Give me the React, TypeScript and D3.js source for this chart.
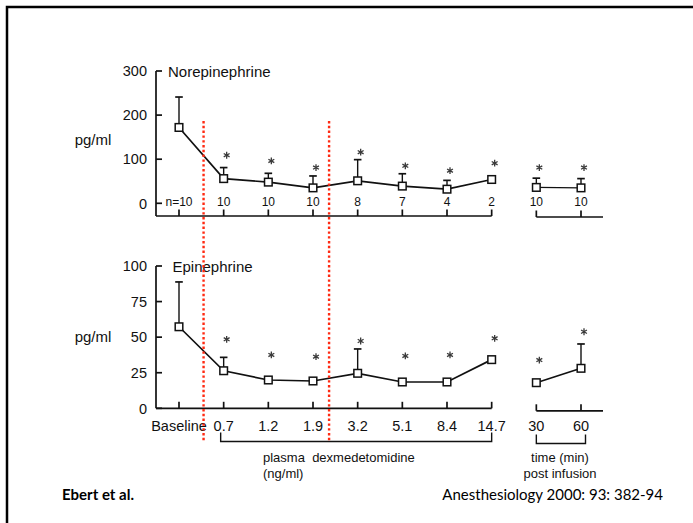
import React, { useEffect, useRef } from 'react';
import * as d3 from 'd3';

const categories = ['Baseline', '0.7', '1.2', '1.9', '3.2', '5.1', '8.4', '14.7', '30', '60'];
const infusionCats = categories.slice(0, 8);
const postCats = categories.slice(8);
const nCounts = ['n=10', '10', '10', '10', '8', '7', '4', '2', '10', '10'];

const norepiMean = [172, 56, 48, 35, 51, 39, 32, 54, 36, 35];
const norepiSem = [69, 25, 20, 27, 48, 28, 20, 0, 21, 21];
const norepiStar = [null, 109, 96, 81, 116, 85, 74, 91, 81, 81];
const norepiTicks = [0, 100, 200, 300];

const epiMean = [57.3, 26.4, 19.9, 19.2, 24.6, 18.5, 18.5, 34.2, 18, 28.1];
const epiSem = [31.5, 9.4, 0, 0, 17.1, 0, 0, 0, 0, 17.1];
const epiStar = [null, 48.5, 37.5, 36.3, 47.3, 36.8, 37.5, 49.2, 33.9, 53.8];
const epiTicks = [0, 25, 50, 75, 100];

// red dotted dividers, in category-index units
const dividers = [0.55, 3.36];

const FONT = '"Liberation Sans", Arial, Helvetica, sans-serif';
const INK = '#111';

const App = () => {
    const svgRef = useRef<SVGSVGElement>(null);

    useEffect(() => {
        const svg = d3.select(svgRef.current);
        svg.selectAll('*').remove();

        const x = d3.scalePoint<string>().domain(categories).range([179, 581]);
        const xi = d3.scaleLinear().domain([0, 9]).range([179, 581]);
        const axisX = 156;

        // frame
        svg.append('rect')
            .attr('x', 7).attr('y', 7)
            .attr('width', 720).attr('height', 560)
            .attr('fill', 'none').attr('stroke', '#000').attr('stroke-width', 2.5);

        const panels = [
            {
                title: 'Norepinephrine', titleX: 168, titleY: 77,
                mean: norepiMean, sem: norepiSem, star: norepiStar, ticks: norepiTicks,
                y: d3.scaleLinear().domain([0, 300]).range([203.3, 71]),
                top: 71, base: 216, postShift: 1, unitY: 140, postWidth: 1.2,
            },
            {
                title: 'Epinephrine', titleX: 172.5, titleY: 272,
                mean: epiMean, sem: epiSem, star: epiStar, ticks: epiTicks,
                y: d3.scaleLinear().domain([0, 100]).range([408.3, 266]),
                top: 266, base: 408.3, postShift: 2.5, unitY: 337, postWidth: 1.7,
            },
        ];

        panels.forEach(p => {
            const g = svg.append('g');
            const y = p.y;

            // y axis
            g.append('line')
                .attr('x1', axisX).attr('x2', axisX)
                .attr('y1', p.top).attr('y2', p.base)
                .attr('stroke', INK).attr('stroke-width', 1.7);
            g.selectAll('line.ytick').data(p.ticks).enter().append('line')
                .attr('x1', axisX).attr('x2', axisX + 6)
                .attr('y1', d => y(d)).attr('y2', d => y(d))
                .attr('stroke', INK).attr('stroke-width', 1.7);
            g.selectAll('text.ylab').data(p.ticks).enter().append('text')
                .attr('x', 147).attr('y', d => y(d)).attr('dy', '0.36em')
                .attr('text-anchor', 'end')
                .attr('font-family', FONT).attr('font-size', 14.5).attr('fill', INK)
                .text(d => d);

            g.append('text')
                .attr('x', 93).attr('y', p.unitY).attr('dy', '0.36em')
                .attr('text-anchor', 'middle')
                .attr('font-family', FONT).attr('font-size', 15).attr('fill', INK)
                .text('pg/ml');

            g.append('text')
                .attr('x', p.titleX).attr('y', p.titleY)
                .attr('font-family', FONT).attr('font-size', 15).attr('fill', INK)
                .text(p.title);

            // x axis main segment
            g.append('line')
                .attr('x1', axisX).attr('x2', x('14.7')!)
                .attr('y1', p.base).attr('y2', p.base)
                .attr('stroke', INK).attr('stroke-width', 1.7);
            g.selectAll('line.xtick').data(infusionCats).enter().append('line')
                .attr('x1', d => x(d)!).attr('x2', d => x(d)!)
                .attr('y1', p.base).attr('y2', p.base - 6.5)
                .attr('stroke', INK).attr('stroke-width', 1.7);

            // x axis post-infusion segment
            const pb = p.base + p.postShift;
            g.append('line')
                .attr('x1', x('30')!).attr('x2', x('60')! + 22)
                .attr('y1', pb).attr('y2', pb)
                .attr('stroke', INK).attr('stroke-width', 1.7);
            g.selectAll('line.ptick').data(postCats).enter().append('line')
                .attr('x1', d => x(d)!).attr('x2', d => x(d)!)
                .attr('y1', pb).attr('y2', pb - 6.5)
                .attr('stroke', INK).attr('stroke-width', 1.7);

            const pts = categories.map((c, i) => ({ c, i, m: p.mean[i], s: p.sem[i], st: p.star[i] }));

            // connecting lines
            const line = d3.line<{ c: string; m: number }>().x(d => x(d.c)!).y(d => y(d.m));
            g.append('path').datum(pts.slice(0, 8))
                .attr('d', line).attr('fill', 'none')
                .attr('stroke', INK).attr('stroke-width', 1.7);
            g.append('path').datum(pts.slice(8))
                .attr('d', line).attr('fill', 'none')
                .attr('stroke', INK).attr('stroke-width', p.postWidth);

            // error bars
            const eb = pts.filter(d => d.s > 0);
            g.selectAll('line.err').data(eb).enter().append('line')
                .attr('x1', d => x(d.c)!).attr('x2', d => x(d.c)!)
                .attr('y1', d => y(d.m) - 3.8).attr('y2', d => y(d.m + d.s))
                .attr('stroke', INK).attr('stroke-width', 1.4);
            g.selectAll('line.cap').data(eb).enter().append('line')
                .attr('x1', d => x(d.c)! - 3.8).attr('x2', d => x(d.c)! + 3.8)
                .attr('y1', d => y(d.m + d.s)).attr('y2', d => y(d.m + d.s))
                .attr('stroke', INK).attr('stroke-width', 1.7);

            // squares
            g.selectAll('rect.pt').data(pts).enter().append('rect')
                .attr('x', d => x(d.c)! - 3.8).attr('y', d => y(d.m) - 3.8)
                .attr('width', 7.6).attr('height', 7.6)
                .attr('fill', '#fff').attr('stroke', INK).attr('stroke-width', 1.5);

            // asterisks
            const star = d3.symbol().type(d3.symbolAsterisk).size(32);
            g.selectAll('path.star').data(pts.filter(d => d.st != null)).enter().append('path')
                .attr('d', star)
                .attr('transform', d => `translate(${x(d.c)! + 3},${y(d.st as number)})`)
                .attr('fill', 'none').attr('stroke', '#3a3a3a').attr('stroke-width', 1.3);
        });

        // n counts (top panel)
        svg.selectAll('text.n').data(categories).enter().append('text')
            .attr('x', d => x(d)!).attr('y', 206)
            .attr('text-anchor', 'middle')
            .attr('font-family', FONT).attr('font-size', 12).attr('fill', INK)
            .text((d, i) => nCounts[i]);

        // category labels (bottom panel)
        svg.selectAll('text.cat').data(categories).enter().append('text')
            .attr('x', d => x(d)!).attr('y', 431)
            .attr('text-anchor', 'middle')
            .attr('font-family', FONT).attr('font-size', 14.5).attr('fill', INK)
            .text(d => d);

        // brackets
        const bracket = (x1: number, x2: number, yb: number) => {
            svg.append('path')
                .attr('d', `M${x1},${yb - 9}V${yb}H${x2}V${yb - 9}`)
                .attr('fill', 'none').attr('stroke', INK).attr('stroke-width', 1.4);
        };
        bracket(x('0.7')! - 3, x('14.7')!, 441.5);
        bracket(x('30')!, x('60')! + 4.5, 443.5);

        svg.append('text')
            .attr('x', 263).attr('y', 462)
            .attr('font-family', FONT).attr('font-size', 13).attr('fill', INK)
            .attr('xml:space', 'preserve')
            .text('plasma  dexmedetomidine');
        svg.append('text')
            .attr('x', 263).attr('y', 478)
            .attr('font-family', FONT).attr('font-size', 13).attr('fill', INK)
            .text('(ng/ml)');
        svg.append('text')
            .attr('x', 560).attr('y', 462).attr('text-anchor', 'middle')
            .attr('font-family', FONT).attr('font-size', 13).attr('fill', INK)
            .text('time (min)');
        svg.append('text')
            .attr('x', 560).attr('y', 478).attr('text-anchor', 'middle')
            .attr('font-family', FONT).attr('font-size', 13).attr('fill', INK)
            .text('post infusion');

        // red dotted dividers
        svg.selectAll('line.div').data(dividers).enter().append('line')
            .attr('x1', d => xi(d)).attr('x2', d => xi(d))
            .attr('y1', 121).attr('y2', 442)
            .attr('stroke', '#ff2a12').attr('stroke-width', 2.4)
            .attr('stroke-dasharray', '2.4,2.4');

        // footer
        svg.append('text')
            .attr('x', 62).attr('y', 500)
            .attr('font-family', 'Lato, "Open Sans", sans-serif').attr('font-weight', 'bold')
            .attr('font-size', 15).attr('fill', '#000')
            .text('Ebert et al.');
        svg.append('text')
            .attr('x', 663).attr('y', 500).attr('text-anchor', 'end')
            .attr('font-family', 'Lato, "Open Sans", sans-serif')
            .attr('font-size', 15).attr('fill', '#000')
            .text('Anesthesiology 2000: 93: 382-94');
    }, []);

    return (
        <div style={{ position: 'fixed', left: 0, top: 0, background: '#fff' }}>
            <svg ref={svgRef} width={693} height={523} style={{ display: 'block' }} />
        </div>
    );
};

export default App;
